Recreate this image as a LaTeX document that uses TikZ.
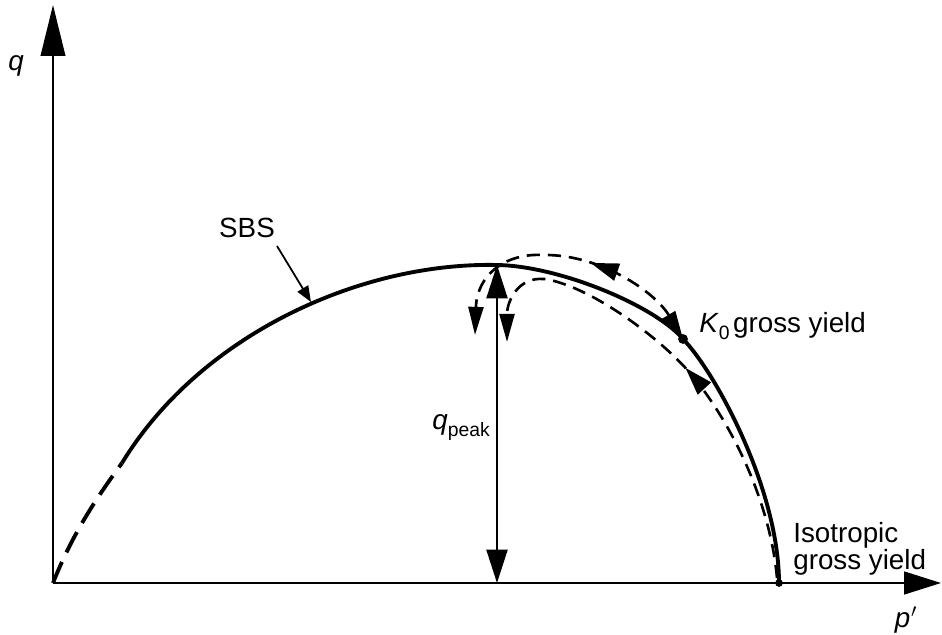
\documentclass[tikz,border=0pt]{standalone}
\usepackage{fontspec}
\setmainfont{Liberation Sans}
\usetikzlibrary{arrows.meta,decorations.markings}

\begin{document}
\begin{tikzpicture}[x=0.2mm, y=-0.2mm, font=\fontsize{15.8}{15.5}\selectfont,
    axis/.style={line width=1.1pt},
    sbs/.style={line width=2.2pt},
    stresspath/.style={line width=1.5pt, dash pattern=on 7.5pt off 4.5pt},
    midarrow/.style={postaction={decorate, decoration={markings,
        mark=at position #1 with {\arrow{Triangle[length=16pt,width=10pt]}}}}}
]
    \useasboundingbox (0,0) rectangle (942,635);

    % Define key points
    \coordinate (O) at (53,583);        % origin
    \coordinate (qtop) at (53,5);       % end of q axis
    \coordinate (pend) at (941,583);    % end of p' axis
    \coordinate (peak) at (497,265);    % top of SBS
    \coordinate (pbase) at (497,583);   % foot of q_peak
    \coordinate (kzero) at (683,339);   % K0 gross yield
    \coordinate (iso) at (779,583);     % isotropic gross yield
    \coordinate (sbsstart) at (277,246);
    \coordinate (sbstip) at (311,302);

    % Draw axes
    \draw[axis, -{Triangle[length=29pt,width=14pt]}] (O) -- (qtop);
    \draw[axis, -{Triangle[length=21pt,width=13pt]}] (O) -- (pend);
    \node (qlabel) at (16,66) {\textit{q}};
    \node (plabel) at (906,620) {\textit{p}\kern0.5pt$'$};

    % Draw SBS
    \draw[sbs, dash pattern=on 13pt off 6pt] (O) .. controls (72,535) and (95,500) .. (122,463);
    \draw[sbs] (122,463) .. controls (200,335) and (360,262) .. (peak)
        .. controls (560,266) and (655,306) .. (kzero)
        .. controls (716,373) and (779,490) .. (iso);
    \fill (kzero) circle[radius=2.8pt];
    \fill (iso) circle[radius=2.2pt];

    % SBS label
    \node (sbs) at (247,228) {SBS};
    \draw[line width=1pt, -{Triangle[length=9pt,width=7pt]}] (sbsstart) -- (sbstip);

    % q_peak
    \draw[axis, {Triangle[length=19pt,width=12pt]}-{Triangle[length=19pt,width=12pt]}] (peak) -- (pbase);
    \node[anchor=base west, inner sep=0pt] (qpeak) at (432,430)
        {\textit{q}\raisebox{-0.45ex}{\fontsize{11}{11}\selectfont peak}};

    % Stress path from K0 gross yield
    \draw[stresspath, midarrow=0.42, {Triangle[length=16pt,width=8.5pt]}-{Triangle[length=16pt,width=8.5pt]}]
        (kzero) .. controls (655,292) and (600,254) .. (543,255)
        .. controls (505,253) and (477,275) .. (475,335);

    % Stress path from isotropic gross yield
    \draw[stresspath, midarrow=0.48, -{Triangle[length=16pt,width=8.5pt]}]
        (777,578) .. controls (770,500) and (730,420) .. (690,373)
        .. controls (660,338) and (595,290) .. (550,280)
        .. controls (520,273) and (507,300) .. (507,342);

    % Yield labels
    \node[anchor=base west, inner sep=0pt] (kyield) at (699,333)
        {\textit{K}\raisebox{-0.45ex}{\fontsize{11}{11}\selectfont 0}\kern2pt gross yield};
    \node[anchor=north west, align=left, inner sep=0pt] (isoyield) at (793,522)
        {Isotropic\\gross yield};
\end{tikzpicture}
\end{document}
